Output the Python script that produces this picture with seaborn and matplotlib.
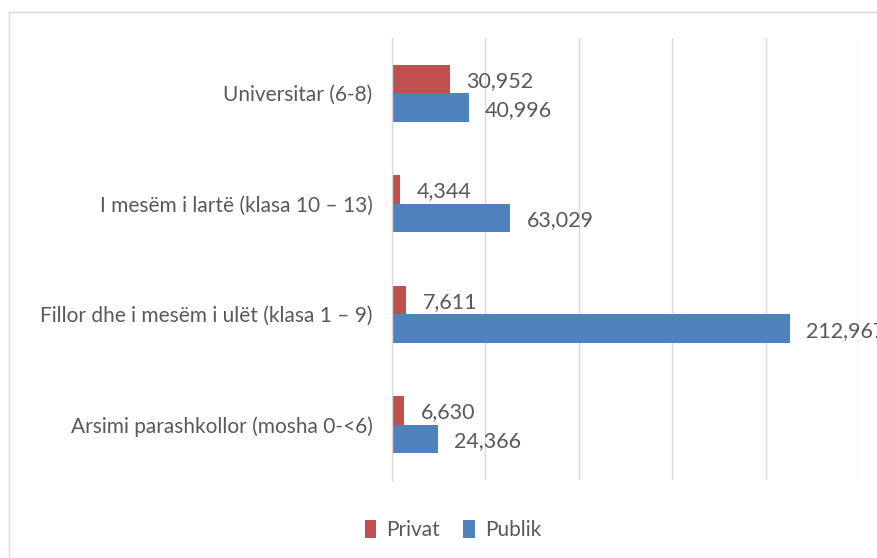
import matplotlib
matplotlib.use("Agg")
import matplotlib.pyplot as plt
from matplotlib.patches import Rectangle
import seaborn as sns
import pandas as pd

categories = [
    "Universitar (6-8)",
    "I mesëm i lartë (klasa 10 – 13)",
    "Fillor dhe i mesëm i ulët (klasa 1 – 9)",
    "Arsimi parashkollor (mosha 0-<6)",
]
privat = [30952, 4344, 7611, 6630]
publik = [40996, 63029, 212967, 24366]
series = ["Privat", "Publik"]
colors = ["#C0504D", "#4F81BD"]

df = pd.DataFrame({
    "kategoria": categories * 2,
    "vlera": privat + publik,
    "sektori": ["Privat"] * len(categories) + ["Publik"] * len(categories),
})

sns.set_theme(style="white")
plt.rcParams["font.family"] = ["Lato", "DejaVu Sans"]
text_color = "#595959"
grid_color = "#D9D9D9"

fig = plt.figure(figsize=(8.77, 5.58), dpi=100)
ax = fig.add_axes([392 / 877, 1 - 480 / 558, (859 - 392) / 877, (480 - 38) / 558])

sns.barplot(
    data=df, y="kategoria", x="vlera", hue="sektori",
    order=categories, hue_order=series, palette=colors, saturation=1,
    orient="h", width=0.52, ax=ax, legend=False,
    edgecolor="none", linewidth=0,
)

ax.set_xlim(0, 250000)
ax.set_xticks(range(0, 250001, 50000))
ax.xaxis.grid(True, color=grid_color, linewidth=1)
ax.yaxis.grid(False)
ax.set_axisbelow(True)
ax.set_xticklabels([])
ax.tick_params(axis="x", length=0)
ax.tick_params(axis="y", length=0, pad=14, labelsize=15, labelcolor=text_color)
ax.set_xlabel("")
ax.set_ylabel("")
for side in ["top", "right", "bottom"]:
    ax.spines[side].set_visible(False)
ax.spines["left"].set_color(grid_color)
ax.spines["left"].set_linewidth(1)

for container, vals in zip(ax.containers, [privat, publik]):
    labels = ax.bar_label(container, labels=[f"{v:,}" for v in vals], padding=12,
                          fontsize=15.5, color=text_color, clip_on=False)
    for t in labels:
        t.set_va("center_baseline")

# chart frame
fig.patches.append(Rectangle((9 / 877, -0.1), 1.2, 1 - 12 / 558 + 0.1,
                             transform=fig.transFigure, fill=False,
                             edgecolor=grid_color, linewidth=1))

handles = [Rectangle((0, 0), 1, 1, facecolor=c, edgecolor="none") for c in colors]
fig.legend(handles, series, loc="center", bbox_to_anchor=(453 / 877, 1 - 530 / 558),
           ncol=2, frameon=False, fontsize=15, labelcolor=text_color,
           handlelength=0.55, handleheight=1.0, handletextpad=0.5, columnspacing=1.1)

fig.savefig("out.png", dpi=100)
